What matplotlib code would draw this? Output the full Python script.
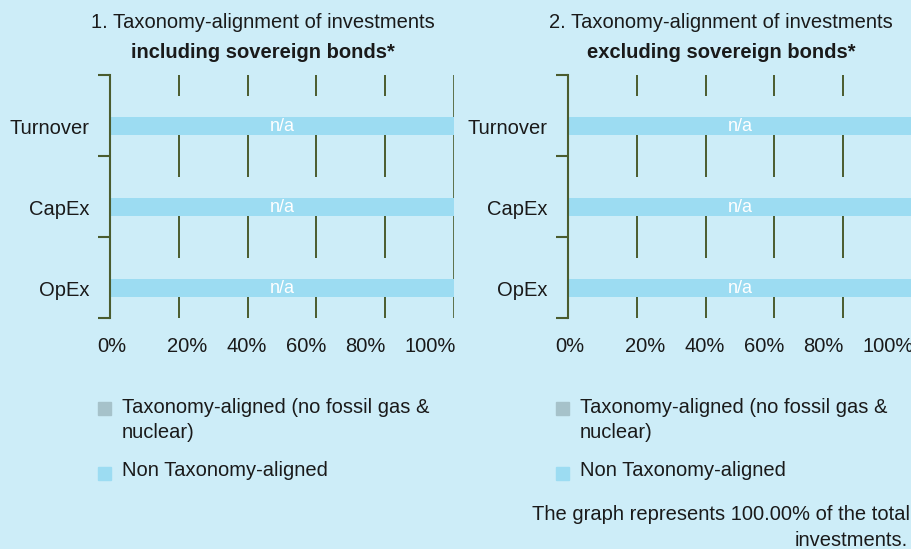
"""
EU Taxonomy alignment chart - two panels (incl. / excl. sovereign bonds)
"""

import matplotlib.pyplot as plt
from matplotlib.patches import Rectangle

plt.rcParams['font.family'] = ['Liberation Sans', 'DejaVu Sans']

# Data
categories = ['Turnover', 'CapEx', 'OpEx']
aligned_incl = [0, 0, 0]
non_aligned_incl = [100, 100, 100]
aligned_excl = [0, 0, 0]
non_aligned_excl = [100, 100, 100]
bar_labels = ['n/a', 'n/a', 'n/a']
grid_x = [20, 40, 60, 80]
x_tick_labels = ['0%', '20%', '40%', '60%', '80%', '100%']
titles = ['1. Taxonomy-alignment of investments', '2. Taxonomy-alignment of investments']
subtitles = ['including sovereign bonds*', 'excluding sovereign bonds*']
legend_labels = ['Taxonomy-aligned (no fossil gas &\nnuclear)', 'Non Taxonomy-aligned']
footer = ['The graph represents 100.00% of the total', 'investments.']

# Style
BG = '#cdedf8'
DARK = '#4a5c2e'
ALIGNED = '#a6c2ca'
NON_ALIGNED = '#9cdcf2'
TXT = '#1a1a1a'
FS = 14.5
W, H = 912, 549
label_pos = [0.6, 22.4, 39.7, 56.9, 74.1, 93.0]  # where the x labels sit (they drift from the grid)
BAR_H = 0.22
OFFSET = 0.13      # non-aligned bar sits below the category centre
SLOT_TOP = 0.26    # gap left for the (empty) aligned bar above it

fig = plt.figure(figsize=(W / 100, H / 100), dpi=100, facecolor=BG)

panels = [
    (110, aligned_incl, non_aligned_incl),
    (568, aligned_excl, non_aligned_excl),
]

for i, (left_px, aligned, non_aligned) in enumerate(panels):
    ax = fig.add_axes([left_px / W, 1 - 318 / H, 344 / W, 243 / H])
    ax.set_facecolor(BG)

    ypos = [k + OFFSET for k in range(len(categories))]

    # grid segments: broken where the aligned/non-aligned bar pair sits
    seg_lo = [-0.5] + [y + BAR_H / 2 for y in ypos]
    seg_hi = [y - BAR_H / 2 - SLOT_TOP for y in ypos] + [2.5]
    for gx in grid_x:
        ax.vlines([gx] * len(seg_lo), seg_lo, seg_hi, color=DARK, linewidth=1.4, zorder=0.5)
    ax.vlines(100, -0.5, 2.5, color=DARK, linewidth=1.2, zorder=0.5)

    ax.barh(ypos, aligned, height=BAR_H, color=ALIGNED, zorder=2)
    bars = ax.barh(ypos, non_aligned, left=aligned, height=BAR_H, color=NON_ALIGNED, zorder=2)
    ax.bar_label(bars, labels=bar_labels, label_type='center', color='white', fontsize=13)

    ax.set_xlim(0, 100)
    ax.set_ylim(2.5, -0.5)

    ax.set_xticks(label_pos)
    ax.set_xticklabels(x_tick_labels, fontsize=FS, color=TXT)
    ax.tick_params(axis='x', which='both', length=0, pad=14)

    # y: labels at bar centres, bracket ticks at category borders
    ax.set_yticks(ypos)
    ax.set_yticklabels(categories, fontsize=FS, color=TXT)
    ax.set_yticks([-0.5, 0.5, 1.5, 2.5], minor=True)
    ax.tick_params(axis='y', which='major', length=0, pad=15)
    ax.tick_params(axis='y', which='minor', length=8.6, width=1.5, color=DARK)

    for s in ['top', 'right', 'bottom']:
        ax.spines[s].set_visible(False)
    ax.spines['left'].set_color(DARK)
    ax.spines['left'].set_linewidth(1.5)

    # titles
    cx = (left_px - 19 + 172) / W
    fig.text(cx, 1 - 22 / H, titles[i], ha='center', va='center', fontsize=FS, color=TXT)
    fig.text(cx, 1 - 53 / H, subtitles[i], ha='center', va='center', fontsize=FS,
             fontweight='bold', color=TXT)

    # legend
    lx = left_px - 12
    for (y_sq, y_txt, label, col) in [(408, 420, legend_labels[0], ALIGNED),
                                       (473, 471, legend_labels[1], NON_ALIGNED)]:
        fig.add_artist(Rectangle((lx / W, 1 - (y_sq + 6.5) / H), 13 / W, 13 / H,
                                 transform=fig.transFigure, color=col))
        fig.text((lx + 24) / W, 1 - y_txt / H, label, ha='left', va='center',
                 fontsize=FS, color=TXT, linespacing=1.45)

# footer (right-aligned at the figure edge)
fig.text(910 / W, 1 - 515 / H, footer[0], ha='right', va='center', fontsize=FS, color=TXT)
fig.text(908 / W, 1 - 541 / H, footer[1], ha='right', va='center', fontsize=FS, color=TXT)

plt.savefig('out.png', dpi=100, facecolor=BG)
